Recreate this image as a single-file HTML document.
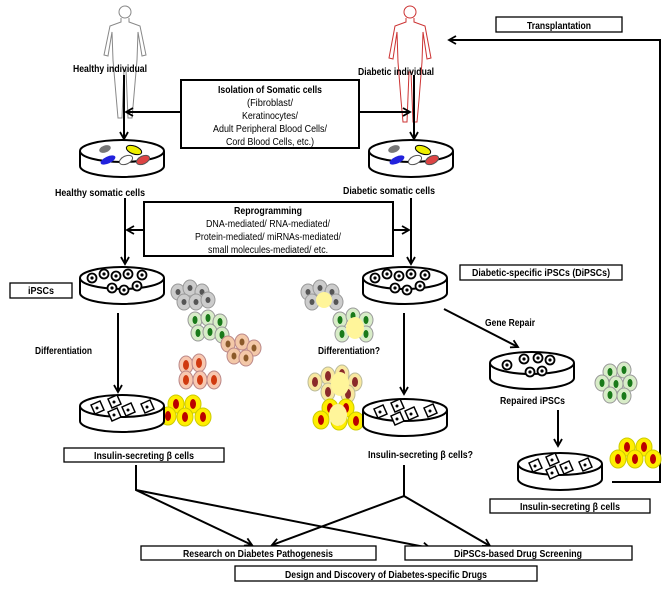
<!DOCTYPE html>
<html><head><meta charset="utf-8"><style>
html,body{margin:0;padding:0;background:#fff}
svg{display:block}
text{font-family:"Liberation Sans",sans-serif;font-size:10px;fill:#000}
.b{font-weight:bold}
</style></head><body>
<svg width="670" height="600" viewBox="0 0 670 600" xmlns="http://www.w3.org/2000/svg">
<defs>
<marker id="ah" markerWidth="10" markerHeight="10" refX="8" refY="5" orient="auto" markerUnits="userSpaceOnUse">
<path d="M1,1 L8,5 L1,9" fill="none" stroke="#000" stroke-width="1.8"/></marker>
<g id="dish">
<path d="M-42,0 L-42,15 A42,11 0 0 0 42,15 L42,0" fill="#fff" stroke="#000" stroke-width="2"/>
<ellipse cx="0" cy="0" rx="42" ry="11" fill="#fff" stroke="#000" stroke-width="2"/>
</g>
<g id="cellg"><ellipse rx="7" ry="8" fill="#ccc" stroke="#999"/><ellipse rx="2.5" ry="3" fill="#555"/></g>
<g id="cellgr"><ellipse rx="7" ry="8" fill="#d8ecc8" stroke="#999"/><ellipse rx="2.5" ry="4" fill="#1a7a1a"/></g>
<g id="cellt"><ellipse rx="7" ry="8" fill="#f3c8a8" stroke="#b88"/><ellipse rx="2.5" ry="3.5" fill="#8a5a2a"/></g>
<g id="cellr"><ellipse rx="7" ry="9" fill="#f8c8b0" stroke="#b88"/><ellipse rx="3" ry="5" fill="#d03a10"/></g>
<g id="celly"><ellipse rx="8" ry="9" fill="#ffee00" stroke="#cc0"/><ellipse rx="3" ry="5" fill="#b00"/></g>
<g id="cellm"><ellipse rx="7" ry="9" fill="#f8e8a0" stroke="#bb9"/><ellipse rx="3" ry="5" fill="#8a2a2a"/></g>
<g id="ips"><circle r="4.5" fill="#fff" stroke="#000" stroke-width="1.8"/><circle r="1.6" fill="#000"/></g>
<g id="beta"><path d="M-6,-3 L3,-7 L7,2 L-2,6 Z" fill="#fff" stroke="#000" stroke-width="1.5"/><circle r="1.5" fill="#000"/></g>
</defs>

<!-- human figures -->
<g fill="none" stroke="#888" stroke-width="1">
<circle cx="125" cy="12" r="6"/>
<path d="M121,18 L121,22 L110,26 L104,55 L108,56 L112,32 L113,60 L116,95 L118,118 L122,118 L124,70 L126,70 L128,118 L132,118 L134,95 L137,60 L138,32 L142,56 L146,55 L140,26 L129,22 L129,18"/>
</g>
<g fill="none" stroke="#c33" stroke-width="1">
<circle cx="410" cy="12" r="6"/>
<path d="M406,18 L406,22 L395,26 L389,58 L393,59 L397,32 L398,62 L401,100 L403,122 L407,122 L409,72 L411,72 L413,122 L417,122 L419,100 L422,62 L423,32 L427,59 L431,58 L425,26 L414,22 L414,18"/>
</g>
<text class="b" x="73" y="72" textLength="74" lengthAdjust="spacingAndGlyphs">Healthy individual</text>
<text class="b" x="358" y="75" textLength="76" lengthAdjust="spacingAndGlyphs">Diabetic individual</text>

<!-- transplantation -->
<rect x="496" y="17" width="126" height="15" fill="#fff" stroke="#000" stroke-width="1.3"/>
<text class="b" x="559" y="29" text-anchor="middle" textLength="64" lengthAdjust="spacingAndGlyphs">Transplantation</text>
<path d="M612,482 L660,482 L660,40 L449,40" fill="none" stroke="#000" stroke-width="2" marker-end="url(#ah)"/>

<!-- isolation -->
<rect x="181" y="80" width="178" height="68" fill="#fff" stroke="#000" stroke-width="2"/>
<text x="270" y="93" text-anchor="middle" class="b" textLength="104" lengthAdjust="spacingAndGlyphs">Isolation of Somatic cells</text>
<text x="270" y="106" text-anchor="middle" textLength="46" lengthAdjust="spacingAndGlyphs">(Fibroblast/</text>
<text x="270" y="119" text-anchor="middle" textLength="56" lengthAdjust="spacingAndGlyphs">Keratinocytes/</text>
<text x="270" y="132" text-anchor="middle" textLength="114" lengthAdjust="spacingAndGlyphs">Adult Peripheral Blood Cells/</text>
<text x="270" y="145" text-anchor="middle" textLength="88" lengthAdjust="spacingAndGlyphs">Cord Blood Cells, etc.)</text>
<g stroke="#000" stroke-width="2" fill="none">
<line x1="181" y1="112" x2="126" y2="112" marker-end="url(#ah)"/>
<line x1="359" y1="112" x2="410" y2="112" marker-end="url(#ah)"/>
<line x1="124" y1="75" x2="124" y2="139" marker-end="url(#ah)"/>
<line x1="414" y1="75" x2="414" y2="139" marker-end="url(#ah)"/>
</g>

<!-- somatic dishes -->
<g transform="translate(122,151)"><use href="#dish"/>
<ellipse cx="-17" cy="-2" rx="6" ry="3.5" fill="#777" transform="rotate(-20 -17 -2)"/>
<ellipse cx="12" cy="-1" rx="8" ry="4" fill="#ee0" stroke="#000" transform="rotate(20 12 -1)"/>
<ellipse cx="-14" cy="9" rx="8" ry="3.5" fill="#22d" transform="rotate(-25 -14 9)"/>
<ellipse cx="4" cy="9" rx="7" ry="4" fill="#fff" stroke="#555" transform="rotate(-25 4 9)"/>
<ellipse cx="21" cy="9" rx="7" ry="4" fill="#d44" stroke="#555" transform="rotate(-25 21 9)"/></g>
<g transform="translate(411,151)"><use href="#dish"/>
<ellipse cx="-17" cy="-2" rx="6" ry="3.5" fill="#777" transform="rotate(-20 -17 -2)"/>
<ellipse cx="12" cy="-1" rx="8" ry="4" fill="#ee0" stroke="#000" transform="rotate(20 12 -1)"/>
<ellipse cx="-14" cy="9" rx="8" ry="3.5" fill="#22d" transform="rotate(-25 -14 9)"/>
<ellipse cx="4" cy="9" rx="7" ry="4" fill="#fff" stroke="#555" transform="rotate(-25 4 9)"/>
<ellipse cx="21" cy="9" rx="7" ry="4" fill="#d44" stroke="#555" transform="rotate(-25 21 9)"/></g>
<text class="b" x="55" y="196" textLength="90" lengthAdjust="spacingAndGlyphs">Healthy somatic cells</text>
<text class="b" x="343" y="194" textLength="92" lengthAdjust="spacingAndGlyphs">Diabetic somatic cells</text>

<!-- reprogramming -->
<rect x="144" y="202" width="249" height="54" fill="#fff" stroke="#000" stroke-width="2"/>
<text x="268" y="214" text-anchor="middle" class="b" textLength="68" lengthAdjust="spacingAndGlyphs">Reprogramming</text>
<text x="268" y="227" text-anchor="middle" textLength="124" lengthAdjust="spacingAndGlyphs">DNA-mediated/ RNA-mediated/</text>
<text x="268" y="240" text-anchor="middle" textLength="146" lengthAdjust="spacingAndGlyphs">Protein-mediated/ miRNAs-mediated/</text>
<text x="268" y="253" text-anchor="middle" textLength="120" lengthAdjust="spacingAndGlyphs">small molecules-mediated/ etc.</text>
<g stroke="#000" stroke-width="2" fill="none">
<line x1="144" y1="230" x2="127" y2="230" marker-end="url(#ah)"/>
<line x1="393" y1="230" x2="409" y2="230" marker-end="url(#ah)"/>
<line x1="125" y1="198" x2="125" y2="264" marker-end="url(#ah)"/>
<line x1="411" y1="198" x2="411" y2="264" marker-end="url(#ah)"/>
</g>

<!-- iPSC dishes -->
<g transform="translate(122,278)"><use href="#dish"/>
<use href="#ips" x="-30" y="0"/><use href="#ips" x="-18" y="-4"/><use href="#ips" x="-6" y="-2"/><use href="#ips" x="6" y="-4"/><use href="#ips" x="20" y="-3"/><use href="#ips" x="-10" y="10"/><use href="#ips" x="15" y="8"/><use href="#ips" x="2" y="12"/></g>
<g transform="translate(405,278)"><use href="#dish"/>
<use href="#ips" x="-30" y="0"/><use href="#ips" x="-18" y="-4"/><use href="#ips" x="-6" y="-2"/><use href="#ips" x="6" y="-4"/><use href="#ips" x="20" y="-3"/><use href="#ips" x="-10" y="10"/><use href="#ips" x="15" y="8"/><use href="#ips" x="2" y="12"/></g>
<rect x="10" y="283" width="62" height="15" fill="#fff" stroke="#000" stroke-width="1.3"/>
<text class="b" x="41" y="294" text-anchor="middle" textLength="26" lengthAdjust="spacingAndGlyphs">iPSCs</text>
<rect x="460" y="265" width="162" height="15" fill="#fff" stroke="#000" stroke-width="1.3"/>
<text class="b" x="541" y="276" text-anchor="middle" textLength="138" lengthAdjust="spacingAndGlyphs">Diabetic-specific iPSCs (DiPSCs)</text>

<!-- clusters healthy -->
<g><use href="#cellg" x="178" y="292"/><use href="#cellg" x="190" y="288"/><use href="#cellg" x="202" y="292"/><use href="#cellg" x="184" y="302"/><use href="#cellg" x="196" y="302"/><use href="#cellg" x="208" y="300"/></g>
<g><use href="#cellgr" x="195" y="320"/><use href="#cellgr" x="208" y="318"/><use href="#cellgr" x="220" y="322"/><use href="#cellgr" x="198" y="333"/><use href="#cellgr" x="210" y="332"/><use href="#cellgr" x="222" y="335"/></g>
<g><use href="#cellt" x="228" y="344"/><use href="#cellt" x="242" y="342"/><use href="#cellt" x="254" y="348"/><use href="#cellt" x="234" y="356"/><use href="#cellt" x="246" y="358"/></g>
<g><use href="#cellr" x="186" y="365"/><use href="#cellr" x="199" y="363"/><use href="#cellr" x="186" y="380"/><use href="#cellr" x="200" y="380"/><use href="#cellr" x="214" y="380"/></g>
<!-- clusters diabetic -->
<g><use href="#cellg" x="308" y="292"/><use href="#cellg" x="320" y="288"/><use href="#cellg" x="332" y="292"/><use href="#cellg" x="312" y="302"/><use href="#cellg" x="336" y="302"/><ellipse cx="324" cy="300" rx="8" ry="8" fill="#fff59a"/></g>
<g><use href="#cellgr" x="340" y="320"/><use href="#cellgr" x="353" y="316"/><use href="#cellgr" x="366" y="320"/><use href="#cellgr" x="342" y="334"/><use href="#cellgr" x="366" y="334"/><ellipse cx="355" cy="328" rx="9" ry="11" fill="#fff59a"/></g>
<g><use href="#cellm" x="315" y="382"/><use href="#cellm" x="328" y="376"/><use href="#cellm" x="342" y="374"/><use href="#cellm" x="355" y="382"/><use href="#cellm" x="328" y="392"/><use href="#cellm" x="348" y="394"/><ellipse cx="340" cy="384" rx="9" ry="12" fill="#fff59a"/></g>
<g><use href="#celly" x="330" y="408"/><use href="#celly" x="346" y="408"/><use href="#celly" x="321" y="420"/><use href="#celly" x="339" y="421"/><use href="#celly" x="356" y="421"/><ellipse cx="338" cy="415" rx="9" ry="11" fill="#fff59a"/></g>
<g><use href="#celly" x="176" y="404"/><use href="#celly" x="193" y="404"/><use href="#celly" x="168" y="416"/><use href="#celly" x="185" y="417"/><use href="#celly" x="203" y="417"/></g>

<text class="b" x="35" y="354" textLength="57" lengthAdjust="spacingAndGlyphs">Differentiation</text>
<text class="b" x="318" y="354" textLength="62" lengthAdjust="spacingAndGlyphs">Differentiation?</text>
<g stroke="#000" stroke-width="2" fill="none">
<line x1="118" y1="313" x2="118" y2="392" marker-end="url(#ah)"/>
<line x1="404" y1="313" x2="404" y2="394" marker-end="url(#ah)"/>
<line x1="444" y1="309" x2="518" y2="347" marker-end="url(#ah)"/>
<line x1="558" y1="410" x2="558" y2="446" marker-end="url(#ah)"/>
</g>
<text class="b" x="485" y="326" textLength="50" lengthAdjust="spacingAndGlyphs">Gene Repair</text>

<!-- beta dishes -->
<g transform="translate(122,406)"><use href="#dish"/>
<use href="#beta" x="-25" y="2"/><use href="#beta" x="-8" y="-4"/><use href="#beta" x="6" y="4"/><use href="#beta" x="25" y="1"/><use href="#beta" x="-8" y="9"/></g>
<g transform="translate(405,410)"><use href="#dish"/>
<use href="#beta" x="-25" y="2"/><use href="#beta" x="-8" y="-4"/><use href="#beta" x="6" y="4"/><use href="#beta" x="25" y="1"/><use href="#beta" x="-8" y="9"/></g>
<g transform="translate(532,363)"><use href="#dish"/>
<use href="#ips" x="-25" y="2"/><use href="#ips" x="-8" y="-4"/><use href="#ips" x="6" y="-5"/><use href="#ips" x="18" y="-3"/><use href="#ips" x="-2" y="9"/><use href="#ips" x="10" y="8"/></g>
<g transform="translate(560,464)"><use href="#dish"/>
<use href="#beta" x="-25" y="2"/><use href="#beta" x="-8" y="-4"/><use href="#beta" x="6" y="4"/><use href="#beta" x="25" y="1"/><use href="#beta" x="-8" y="9"/></g>
<g><use href="#cellgr" x="610" y="372"/><use href="#cellgr" x="624" y="370"/><use href="#cellgr" x="602" y="383"/><use href="#cellgr" x="616" y="384"/><use href="#cellgr" x="630" y="383"/><use href="#cellgr" x="610" y="395"/><use href="#cellgr" x="624" y="396"/></g>
<g><use href="#celly" x="627" y="447"/><use href="#celly" x="644" y="447"/><use href="#celly" x="618" y="459"/><use href="#celly" x="635" y="459"/><use href="#celly" x="653" y="459"/></g>
<text class="b" x="500" y="404" textLength="65" lengthAdjust="spacingAndGlyphs">Repaired iPSCs</text>

<rect x="64" y="448" width="160" height="14" fill="#fff" stroke="#000" stroke-width="1.3"/>
<text class="b" x="144" y="459" text-anchor="middle" textLength="100" lengthAdjust="spacingAndGlyphs">Insulin-secreting β cells</text>
<text class="b" x="368" y="458" textLength="105" lengthAdjust="spacingAndGlyphs">Insulin-secreting β cells?</text>
<rect x="490" y="499" width="160" height="14" fill="#fff" stroke="#000" stroke-width="1.3"/>
<text class="b" x="570" y="510" text-anchor="middle" textLength="100" lengthAdjust="spacingAndGlyphs">Insulin-secreting β cells</text>

<!-- bottom connectors -->
<g stroke="#000" stroke-width="2" fill="none">
<path d="M136,465 L136,490 L252,545" marker-end="url(#ah)"/>
<path d="M136,490 L430,548" marker-end="url(#ah)"/>
<path d="M404,465 L404,496 L272,545" marker-end="url(#ah)"/>
<path d="M404,496 L490,546" marker-end="url(#ah)"/>
</g>
<rect x="141" y="546" width="235" height="14" fill="#fff" stroke="#000" stroke-width="1.3"/>
<text class="b" x="258" y="557" text-anchor="middle" textLength="150" lengthAdjust="spacingAndGlyphs">Research on Diabetes Pathogenesis</text>
<rect x="405" y="546" width="227" height="14" fill="#fff" stroke="#000" stroke-width="1.3"/>
<text class="b" x="518" y="557" text-anchor="middle" textLength="128" lengthAdjust="spacingAndGlyphs">DiPSCs-based Drug Screening</text>
<rect x="235" y="566" width="302" height="15" fill="#fff" stroke="#000" stroke-width="1.3"/>
<text class="b" x="386" y="578" text-anchor="middle" textLength="202" lengthAdjust="spacingAndGlyphs">Design and Discovery of Diabetes-specific Drugs</text>
</svg>
</body></html>
